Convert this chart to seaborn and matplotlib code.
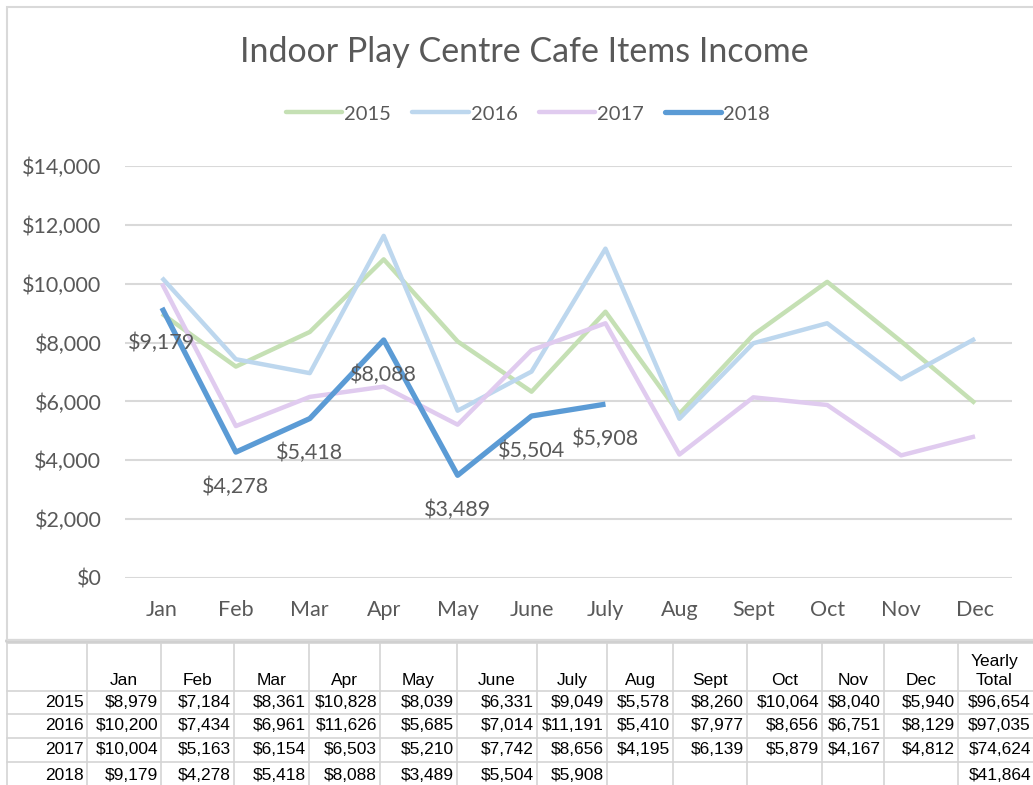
import pandas as pd
import numpy as np
import matplotlib.pyplot as plt
import seaborn as sns
from matplotlib.patches import Rectangle
from matplotlib.lines import Line2D

# Данные
months = ['Jan', 'Feb', 'Mar', 'Apr', 'May', 'June', 'July', 'Aug', 'Sept', 'Oct', 'Nov', 'Dec']
years = ['2015', '2016', '2017', '2018']
income_2015 = [8979, 7184, 8361, 10828, 8039, 6331, 9049, 5578, 8260, 10064, 8040, 5940]
income_2016 = [10200, 7434, 6961, 11626, 5685, 7014, 11191, 5410, 7977, 8656, 6751, 8129]
income_2017 = [10004, 5163, 6154, 6503, 5210, 7742, 8656, 4195, 6139, 5879, 4167, 4812]
income_2018 = [9179, 4278, 5418, 8088, 3489, 5504, 5908, None, None, None, None, None]
yearly_totals = [96654, 97035, 74624, 41864]

series = {'2015': income_2015, '2016': income_2016, '2017': income_2017, '2018': income_2018}
rows = []
for y, vals in series.items():
    for m, v in zip(months, vals):
        if v is not None:
            rows.append({'Month': m, 'Year': y, 'Income': v})
df = pd.DataFrame(rows)
df['pos'] = df['Month'].map({m: i for i, m in enumerate(months)})

colors = {'2015': '#c5e0b4', '2016': '#bdd7ee', '2017': '#e0cbef', '2018': '#5b9bd5'}
widths = {'2015': 3.2, '2016': 3.2, '2017': 3.2, '2018': 3.8}

sns.set_style('white')
plt.rcParams['font.family'] = ['Lato', 'DejaVu Sans']
text_color = '#595959'

W, H = 1033, 785
fig = plt.figure(figsize=(W / 100, H / 100), dpi=100)

# рамка диаграммы
fig.patches.append(Rectangle((7 / W, 1 - 640 / H), (W + 20) / W, 633 / H,
                             transform=fig.transFigure, fill=False,
                             edgecolor='#d9d9d9', linewidth=1.5))

ax = fig.add_axes([125 / W, 1 - 578 / H, (1012 - 125) / W, (578 - 166) / H])
for y in years:
    sub = df[df['Year'] == y]
    sns.lineplot(data=sub, x='pos', y='Income', color=colors[y],
                 linewidth=widths[y], ax=ax, solid_capstyle='butt')

ax.set_xlim(-0.5, 11.5)
ax.set_ylim(0, 14000)
ax.set_yticks(range(0, 14001, 2000))
ax.set_yticklabels([f'${v:,}' for v in range(0, 14001, 2000)])
ax.set_xticks(range(len(months)))
ax.set_xticklabels(months)
ax.tick_params(axis='both', length=0, labelsize=15.5, colors=text_color)
ax.tick_params(axis='x', pad=16)
ax.tick_params(axis='y', pad=17)
ax.set_xlabel('')
ax.set_ylabel('')
ax.grid(axis='y', color='#d9d9d9', linewidth=1.5)
ax.set_axisbelow(True)
for s in ax.spines.values():
    s.set_visible(False)
ax.patch.set_alpha(0)

# подписи значений 2018
for i, v in enumerate(income_2018):
    if v is not None:
        ax.annotate(f'${v:,}', (i, v), xytext=(0, -25), textcoords='offset points',
                    ha='center', va='center', fontsize=15.5, color=text_color)

fig.text(524 / W, 1 - 52 / H, 'Indoor Play Centre Cafe Items Income',
         ha='center', va='center', fontsize=24.5, color=text_color)

handles = [Line2D([0], [0], color=colors[y], linewidth=widths[y]) for y in years]
fig.legend(handles, years, loc='center', bbox_to_anchor=(528 / W, 1 - 114 / H), ncol=4,
           frameon=False, fontsize=14.5, labelcolor=text_color, handlelength=2.8,
           handletextpad=0.1, columnspacing=1.05)

# таблица данных
tax = fig.add_axes([0, 0, 1, 145 / H])
tax.set_xlim(0, W)
tax.set_ylim(785, 640)
tax.axis('off')
col_edges = [7, 87, 161, 234, 309, 380, 457, 537, 607, 673, 747, 822, 884, 958, 1045]
row_edges = [643, 691, 714, 738, 762, 790]
grid_c = '#d4d4d4'
for yv in row_edges:
    tax.plot([7, 1045], [yv, yv], color=grid_c, linewidth=1.2, clip_on=False)
tax.plot([7, 1045], [641, 641], color='#d0d0d0', linewidth=3, clip_on=False)
for xv in col_edges:
    tax.plot([xv, xv], [643, 790], color=grid_c, linewidth=1.2, clip_on=False)

tfont = dict(family=['Liberation Sans', 'DejaVu Sans'], fontsize=12.5, color='black')
for j, h in enumerate(months):
    cx = (col_edges[j + 1] + col_edges[j + 2]) / 2
    tax.text(cx, 688, h, ha='center', va='bottom', **tfont)
tax.text(994, 688, 'Yearly\nTotal', ha='center', va='bottom', linespacing=1.3, **tfont)
all_vals = [income_2015, income_2016, income_2017, income_2018]
for r, (y, vals) in enumerate(zip(years, all_vals)):
    cy = (row_edges[r + 1] + row_edges[r + 2]) / 2 if r < 3 else 775
    tax.text(col_edges[1] - 3, cy, y, ha='right', va='center', **tfont)
    for j, v in enumerate(vals):
        if v is not None:
            tax.text(col_edges[j + 2] - 3, cy, f'${v:,}', ha='right', va='center', **tfont)
    tax.text(1031, cy, f'${yearly_totals[r]:,}', ha='right', va='center', **tfont)

fig.savefig('out.png', dpi=100)
